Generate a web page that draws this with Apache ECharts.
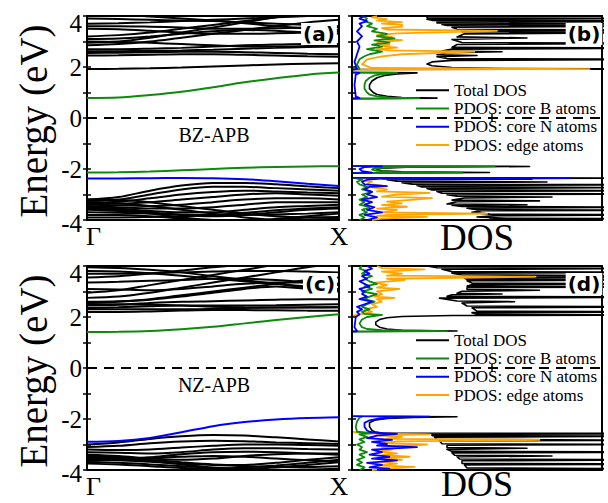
<!DOCTYPE html>
<html><head><meta charset="utf-8">
<script src="https://cdn.jsdelivr.net/npm/echarts@6/dist/echarts.min.js"></script>
<style>html,body{margin:0;padding:0;background:#fff}#c{width:608px;height:503px}</style>
</head><body><div id="c"></div>
<script>
// ---------- tick labels / categories ----------
const kPoints = [0, 0.125, 0.25, 0.375, 0.5, 0.625, 0.75, 0.875, 1];
const kTickLabels = { 0: 'Γ', 1: 'X' };
const energyTicks = [-4, -2, 0, 2, 4];
const energyTickLabels = ['-4', '-2', '0', '2', '4'];
const legendNames = ['Total DOS', 'PDOS: core B atoms', 'PDOS: core N atoms', 'PDOS: edge atoms'];
const panelLabels = ['(a)', '(b)', '(c)', '(d)'];
const structureLabels = ['BZ-APB', 'NZ-APB'];
const axisTitles = ['Energy (eV)', 'DOS'];
const fermiLevel = 0;
const dosMax = 100;
const dosTickStep = 56;

// ---------- panel (a): BZ-APB bands ----------
const bandsA_black = [
  [1.92, 1.93, 1.95, 1.98, 2.02, 2.06, 2.1, 2.13, 2.15],
  [2.45, 2.46, 2.48, 2.5, 2.5, 2.48, 2.45, 2.42, 2.4],
  [2.55, 2.56, 2.58, 2.6, 2.6, 2.58, 2.55, 2.52, 2.5],
  [2.62, 2.62, 2.63, 2.65, 2.68, 2.72, 2.75, 2.78, 2.8],
  [2.7, 2.7, 2.72, 2.75, 2.8, 2.85, 2.88, 2.9, 2.9],
  [2.85, 2.9, 3.0, 3.15, 3.3, 3.45, 3.6, 3.75, 3.85],
  [2.95, 3.0, 3.15, 3.35, 3.55, 3.75, 3.95, 4.1, 4.2],
  [3.1, 3.12, 3.2, 3.3, 3.4, 3.45, 3.42, 3.35, 3.3],
  [3.2, 3.25, 3.35, 3.5, 3.65, 3.8, 3.95, 4.1, 4.2],
  [3.5, 3.48, 3.42, 3.35, 3.3, 3.3, 3.32, 3.35, 3.38],
  [3.6, 3.6, 3.58, 3.55, 3.5, 3.5, 3.52, 3.55, 3.55],
  [3.7, 3.72, 3.75, 3.8, 3.85, 3.9, 3.95, 4.0, 4.05],
  [3.9, 3.88, 3.85, 3.82, 3.8, 3.75, 3.7, 3.65, 3.6],
  [4.1, 4.05, 3.98, 3.9, 3.82, 3.72, 3.6, 3.5, 3.45],
  [3.0, 2.98, 2.95, 2.9, 2.85, 2.8, 2.8, 2.82, 2.85],
  [-3.2, -3.1, -2.85, -2.65, -2.55, -2.55, -2.6, -2.68, -2.75],
  [-3.25, -3.2, -3.0, -2.8, -2.7, -2.7, -2.75, -2.8, -2.85],
  [-3.3, -3.28, -3.15, -3.0, -2.9, -2.85, -2.88, -2.92, -2.95],
  [-3.35, -3.35, -3.3, -3.2, -3.1, -3.0, -2.95, -3.0, -3.05],
  [-3.4, -3.42, -3.45, -3.4, -3.3, -3.2, -3.15, -3.15, -3.2],
  [-3.45, -3.5, -3.55, -3.55, -3.5, -3.4, -3.3, -3.3, -3.3],
  [-3.5, -3.55, -3.65, -3.7, -3.7, -3.6, -3.5, -3.45, -3.4],
  [-3.55, -3.6, -3.7, -3.8, -3.85, -3.8, -3.7, -3.6, -3.55],
  [-3.6, -3.65, -3.75, -3.9, -4.0, -4.05, -3.95, -3.85, -3.75],
  [-3.7, -3.72, -3.75, -3.78, -3.8, -3.8, -3.78, -3.75, -3.7],
  [-3.8, -3.8, -3.85, -3.95, -4.1, -4.1, -4.0, -3.9, -3.88],
  [-3.2, -3.22, -3.3, -3.45, -3.6, -3.75, -3.85, -3.9, -3.92],
  [-3.3, -3.35, -3.45, -3.6, -3.75, -3.9, -4.0, -4.05, -4.05],
  [-3.9, -3.9, -3.88, -3.85, -3.8, -3.72, -3.62, -3.55, -3.5]
];
const bandsA_green = [
  [0.78, 0.8, 0.9, 1.03, 1.21, 1.4, 1.56, 1.7, 1.78],
  [-2.14, -2.13, -2.1, -2.05, -2.0, -1.95, -1.92, -1.9, -1.89]
];
const bandsA_blue = [
  [-2.37, -2.37, -2.36, -2.35, -2.36, -2.4, -2.48, -2.58, -2.67]
];

// ---------- panel (c): NZ-APB bands ----------
const bandsC_black = [
  [2.2, 2.2, 2.22, 2.25, 2.27, 2.27, 2.26, 2.25, 2.25],
  [2.3, 2.3, 2.3, 2.3, 2.32, 2.35, 2.37, 2.38, 2.38],
  [2.35, 2.38, 2.42, 2.45, 2.45, 2.45, 2.46, 2.48, 2.5],
  [2.45, 2.48, 2.55, 2.6, 2.62, 2.65, 2.68, 2.7, 2.7],
  [2.55, 2.6, 2.7, 2.85, 3.0, 3.15, 3.3, 3.45, 3.55],
  [2.6, 2.62, 2.68, 2.8, 2.95, 3.1, 3.2, 3.1, 3.0],
  [2.75, 2.8, 2.95, 3.15, 3.35, 3.55, 3.75, 3.95, 4.1],
  [2.95, 3.05, 3.25, 3.45, 3.65, 3.85, 4.05, 4.2, 4.3],
  [3.1, 3.08, 3.05, 3.1, 3.2, 3.3, 3.35, 3.35, 3.3],
  [3.35, 3.38, 3.42, 3.45, 3.5, 3.5, 3.45, 3.35, 3.25],
  [3.55, 3.6, 3.7, 3.82, 3.95, 4.05, 4.1, 4.1, 4.1],
  [3.7, 3.7, 3.72, 3.75, 3.78, 3.8, 3.8, 3.78, 3.75],
  [3.8, 3.78, 3.72, 3.62, 3.5, 3.4, 3.3, 3.2, 3.1],
  [3.95, 3.92, 3.85, 3.75, 3.6, 3.45, 3.3, 3.15, 3.05],
  [2.5, 2.5, 2.48, 2.45, 2.4, 2.38, 2.37, 2.37, 2.38],
  [-3.0, -2.92, -2.78, -2.68, -2.63, -2.65, -2.72, -2.8, -2.88],
  [-3.1, -3.05, -2.95, -2.88, -2.85, -2.87, -2.92, -2.95, -2.98],
  [-3.2, -3.22, -3.2, -3.12, -3.05, -3.0, -3.0, -3.02, -3.05],
  [-3.3, -3.32, -3.35, -3.3, -3.2, -3.15, -3.15, -3.18, -3.2],
  [-3.4, -3.45, -3.55, -3.6, -3.55, -3.45, -3.38, -3.35, -3.35],
  [-3.45, -3.5, -3.6, -3.7, -3.78, -3.8, -3.72, -3.6, -3.5],
  [-3.5, -3.55, -3.65, -3.78, -3.9, -3.95, -3.9, -3.8, -3.7],
  [-3.55, -3.55, -3.52, -3.48, -3.45, -3.48, -3.55, -3.62, -3.68],
  [-3.6, -3.62, -3.68, -3.75, -3.8, -3.85, -3.88, -3.88, -3.85],
  [-3.7, -3.72, -3.78, -3.85, -3.92, -3.98, -4.0, -3.98, -3.95],
  [-3.65, -3.6, -3.5, -3.38, -3.3, -3.28, -3.3, -3.35, -3.4],
  [-3.75, -3.78, -3.85, -3.92, -3.95, -3.9, -3.82, -3.72, -3.6]
];
const bandsC_green = [
  [1.41, 1.42, 1.45, 1.52, 1.62, 1.75, 1.88, 2.0, 2.11]
];
const bandsC_blue = [
  [-2.89, -2.86, -2.74, -2.52, -2.28, -2.12, -2.02, -1.96, -1.93]
];

// ---------- panel (b): BZ-APB DOS, pairs [energy, dos] ----------
const dosB_total = [[-4.0,60],[-3.97,55],[-3.95,130],[-3.93,62],[-3.88,50],[-3.83,58],[-3.8,130],[-3.77,55],[-3.7,48],[-3.64,52],[-3.62,130],[-3.6,50],[-3.54,46],[-3.5,125],[-3.47,44],[-3.42,40],[-3.4,70],[-3.37,38],[-3.28,42],[-3.25,75],[-3.22,40],[-3.14,45],[-3.1,80],[-3.07,42],[-3.01,38],[-2.98,130],[-2.95,36],[-2.88,34],[-2.85,130],[-2.82,32],[-2.76,30],[-2.73,120],[-2.7,28],[-2.65,26],[-2.62,130],[-2.6,24],[-2.54,20],[-2.51,78],[-2.48,18],[-2.42,14],[-2.4,72],[-2.38,12],[-2.36,130],[-2.34,0],
  [-2.16,0],[-2.14,55],[-2.11,20],[-2.07,12],[-2.02,10],[-1.97,12],[-1.93,22],[-1.9,71],[-1.88,0],
  [0.76,0],[0.78,34],[0.8,20],[0.85,14],[0.92,10],[1.0,8.5],[1.15,7],[1.3,7],[1.45,8],[1.58,10],[1.67,13],[1.73,18],[1.77,26],[1.79,0],
  [1.9,0],[1.92,130],[1.94,60],[1.98,40],[2.05,32],[2.12,30],[2.2,32],[2.26,40],[2.3,130],[2.33,38],[2.4,34],[2.45,50],[2.48,34],[2.56,38],[2.6,60],[2.63,36],[2.7,40],[2.74,130],[2.77,40],[2.88,42],[2.93,130],[2.96,44],[3.08,40],[3.14,70],[3.18,42],[3.3,45],[3.35,130],[3.38,44],[3.42,60],[3.45,130],[3.48,42],[3.56,40],[3.6,130],[3.63,38],[3.67,36],[3.7,130],[3.73,34],[3.77,34],[3.8,125],[3.83,32],[3.87,30],[3.9,130],[3.93,30],[4.0,30]];
const dosB_coreB = [[-4,3],[-3.9,5],[-3.8,3],[-3.7,6],[-3.6,4],[-3.5,7],[-3.4,3],[-3.3,5],[-3.2,3],[-3.1,6],[-3.0,4],[-2.9,8],[-2.8,4],[-2.7,6],[-2.6,3],[-2.5,2],[-2.42,4],[-2.37,2],[-2.34,0],
  [-2.16,0],[-2.14,44],[-2.11,16],[-2.07,10],[-2.02,8],[-1.97,9],[-1.93,17],[-1.9,57],[-1.88,0],
  [0.76,0],[0.78,27],[0.8,15],[0.85,10],[0.92,7],[1.0,6],[1.15,5],[1.3,5],[1.45,5.5],[1.58,7],[1.67,9],[1.73,13],[1.77,18],[1.79,0],
  [1.9,0],[1.93,3],[2.1,2],[2.3,3],[2.42,5],[2.5,7],[2.6,12],[2.7,6],[2.8,12],[2.88,8],[2.96,15],[3.04,9],[3.12,17],[3.2,10],[3.3,14],[3.4,8],[3.5,10],[3.6,6],[3.7,8],[3.8,5],[3.9,6],[4.0,4]];
const dosB_coreN = [[-4,6],[-3.9,10],[-3.8,5],[-3.7,12],[-3.6,6],[-3.5,9],[-3.4,5],[-3.3,8],[-3.2,4],[-3.1,10],[-3.0,6],[-2.9,8],[-2.8,5],[-2.7,7],[-2.67,14],[-2.6,5],[-2.5,4],[-2.42,6],[-2.38,12],[-2.36,87],[-2.34,0],
  [-2.16,0],[-2.14,8],[-2.08,4],[-2.0,3],[-1.93,5],[-1.9,12],[-1.88,0],
  [0.76,0],[0.78,3],[0.85,1.5],[1.3,1],[1.7,1.5],[1.77,3],[1.79,0],
  [1.9,0],[1.93,2],[2.2,1],[2.5,2],[2.8,3],[3.0,2],[3.2,4],[3.4,2],[3.6,4],[3.7,3],[3.8,6],[3.9,3],[4.0,5]];
const dosB_edge = [[-4.0,8],[-3.95,12],[-3.88,30],[-3.84,10],[-3.8,15],[-3.75,54],[-3.7,12],[-3.6,18],[-3.55,10],[-3.48,22],[-3.42,12],[-3.35,20],[-3.28,14],[-3.2,25],[-3.14,32],[-3.08,12],[-3.0,18],[-2.94,31],[-2.88,10],[-2.8,14],[-2.72,8],[-2.65,12],[-2.58,6],[-2.5,8],[-2.45,4],[-2.4,3],[-2.36,1],[-2.34,0],
  [1.9,0],[1.92,95],[1.96,8],[2.1,4],[2.3,6],[2.42,12],[2.5,20],[2.6,49],[2.65,15],[2.7,10],[2.76,18],[2.82,12],[2.88,15],[2.94,10],[3.0,14],[3.05,20],[3.1,12],[3.18,16],[3.25,10],[3.32,18],[3.42,58],[3.47,14],[3.52,12],[3.58,20],[3.65,20],[3.7,12],[3.76,20],[3.82,10],[3.88,14],[3.95,8],[4.0,10]];

// ---------- panel (d): NZ-APB DOS, pairs [energy, dos] ----------
const dosD_total = [[-4,50],[-3.97,48],[-3.95,130],[-3.92,46],[-3.8,45],[-3.77,130],[-3.74,44],[-3.64,44],[-3.6,130],[-3.57,43],[-3.48,42],[-3.45,80],[-3.42,41],[-3.33,40],[-3.3,130],[-3.27,40],[-3.19,38],[-3.15,70],[-3.12,38],[-3.03,38],[-3.0,130],[-2.97,36],[-2.86,35],[-2.83,130],[-2.8,34],[-2.71,33],[-2.68,130],[-2.65,32],[-2.61,32],[-2.57,130],[-2.55,12],
  [-2.5,9],[-2.45,8],[-2.3,7],[-2.15,7],[-2.05,9],[-1.98,14],[-1.94,25],[-1.91,42],[-1.89,0],
  [1.43,0],[1.45,42],[1.48,20],[1.53,14],[1.6,11],[1.7,9.5],[1.8,9.5],[1.9,11],[1.97,14],[2.02,20],[2.06,40],[2.08,130],[2.11,50],[2.17,48],[2.2,130],[2.23,50],[2.36,48],[2.4,130],[2.43,46],[2.55,44],[2.6,65],[2.63,42],[2.74,35],[2.78,130],[2.81,38],[2.87,40],[2.9,60],[2.93,42],[3.01,44],[3.05,75],[3.08,46],[3.15,46],[3.18,130],[3.21,46],[3.27,48],[3.3,130],[3.33,48],[3.42,46],[3.45,130],[3.48,46],[3.52,45],[3.55,130],[3.58,74],[3.6,78],[3.62,130],[3.65,44],[3.72,40],[3.75,130],[3.78,40],[3.87,36],[3.9,130],[3.93,34],[4.0,30]];
const dosD_coreB = [[-4,3],[-3.9,5],[-3.8,2],[-3.7,4],[-3.6,2],[-3.5,5],[-3.4,3],[-3.3,6],[-3.2,3],[-3.1,4],[-3.0,2],[-2.9,5],[-2.8,3],[-2.7,6],[-2.6,3],[-2.55,8],[-2.5,2],[-2.3,1.5],[-2.1,2],[-1.95,3],[-1.91,4],[-1.89,0],
  [1.43,0],[1.45,38],[1.48,12],[1.53,6],[1.6,4],[1.75,3],[1.9,4],[2.0,6],[2.08,12],[2.12,5],[2.2,4],[2.3,7],[2.4,4],[2.5,6],[2.6,9],[2.7,5],[2.8,7],[2.9,10],[3.0,4],[3.1,8],[3.2,5],[3.3,10],[3.4,7],[3.5,5],[3.6,8],[3.7,4],[3.8,6],[3.9,3],[4.0,4]];
const dosD_coreN = [[-4,10],[-3.95,15],[-3.9,7],[-3.8,12],[-3.72,6],[-3.62,18],[-3.55,8],[-3.48,15],[-3.4,7],[-3.3,12],[-3.2,8],[-3.1,26],[-3.04,10],[-2.98,14],[-2.9,8],[-2.82,16],[-2.75,6],[-2.65,10],[-2.58,18],[-2.54,9],
  [-2.5,7],[-2.45,6],[-2.3,5],[-2.15,5],[-2.05,7],[-1.98,11],[-1.94,18],[-1.91,31],[-1.89,0],
  [1.43,0],[1.45,2],[1.6,1],[2.0,1.5],[2.1,3],[2.2,2],[2.3,4],[2.4,2],[2.5,5],[2.6,8],[2.7,3],[2.8,6],[2.9,4],[3.0,5],[3.1,3],[3.2,7],[3.3,5],[3.4,3],[3.5,6],[3.6,4],[3.7,7],[3.8,5],[3.9,8],[4.0,6]];
const dosD_edge = [[-4,8],[-3.95,14],[-3.88,25],[-3.82,10],[-3.75,18],[-3.68,12],[-3.6,20],[-3.55,10],[-3.48,23],[-3.42,12],[-3.35,18],[-3.28,10],[-3.2,16],[-3.12,12],[-3.05,20],[-3.0,30],[-2.95,12],[-2.88,18],[-2.82,75],[-2.78,14],[-2.7,20],[-2.64,10],[-2.6,31],[-2.56,5],[-2.52,1],[-2.48,0],
  [2.05,0],[2.1,3],[2.2,8],[2.3,5],[2.4,10],[2.5,8],[2.6,12],[2.7,10],[2.75,17],[2.8,9],[2.9,12],[3.0,10],[3.1,19],[3.15,10],[3.25,14],[3.35,9],[3.45,21],[3.5,14],[3.58,73],[3.62,14],[3.7,20],[3.78,12],[3.87,29],[3.92,12],[4.0,10]];

// ---------- styling ----------
const colBlack = '#000000', colGreen = '#0b8a0b', colBlue = '#0000ff', colOrange = '#ffa500';
const serif = 'Liberation Serif';
const chart = echarts.init(document.getElementById('c'), null, { renderer: 'svg', width: 608, height: 503 });

const gridBoxes = [
  { left: 87, top: 16, width: 252, height: 204 },
  { left: 352, top: 16, width: 250, height: 204 },
  { left: 87, top: 266, width: 252, height: 204 },
  { left: 352, top: 266, width: 250, height: 204 }
];
const grid = gridBoxes.map(g => Object.assign({ show: true, borderColor: '#000', borderWidth: 2, backgroundColor: 'transparent' }, g));

const labelRich = {
  top: { fontFamily: serif, fontSize: 25, color: '#000', padding: [14, 0, 0, 0] },
  bot: { fontFamily: serif, fontSize: 25, color: '#000', padding: [6, 0, 0, 0] },
  gam: { fontFamily: serif, fontSize: 26, color: '#000', padding: [0, 0, 0, 13] }
};
function energyLabel(v) {
  const j = energyTicks.indexOf(v);
  if (j < 0) return '';
  if (j === energyTicks.length - 1) return '{top|' + energyTickLabels[j] + '}';
  if (j === 0) return '{bot|' + energyTickLabels[j] + '}';
  return energyTickLabels[j];
}
function kLabel(v) {
  const s = kTickLabels[v] || '';
  return v === 0 ? '{gam|' + s + '}' : s;
}

const tickStyle = { show: true, inside: true, length: 4, lineStyle: { color: '#000', width: 1.5 } };
const xAxis = [], yAxis = [];
gridBoxes.forEach((g, i) => {
  const isBand = i % 2 === 0;
  if (isBand) {
    xAxis.push({ gridIndex: i, type: 'value', min: 0, max: 1, interval: 1, axisLine: { show: false }, axisTick: { show: false }, splitLine: { show: false },
      axisLabel: { formatter: kLabel, rich: labelRich, fontFamily: serif, fontSize: 26, color: '#000', margin: 3, showMinLabel: true, showMaxLabel: true } });
    xAxis.push({ gridIndex: i, type: 'value', min: 0, max: 1, position: 'top', show: false });
  } else {
    const common = { gridIndex: i, type: 'value', min: 0, max: dosMax, interval: dosTickStep, axisLine: { show: false }, axisLabel: { show: false }, splitLine: { show: false }, axisTick: tickStyle };
    xAxis.push(Object.assign({ position: 'bottom' }, common));
    xAxis.push(Object.assign({ position: 'top' }, common));
  }
  yAxis.push({ gridIndex: i, type: 'value', min: -4, max: 4, interval: 1, position: 'left', z: 10, splitLine: { show: false },
    axisLine: { show: !isBand, lineStyle: { color: '#000', width: 2 } }, axisTick: tickStyle,
    axisLabel: isBand ? { formatter: energyLabel, rich: labelRich, fontFamily: serif, fontSize: 25, color: '#000', margin: 5, showMinLabel: true, showMaxLabel: true } : { show: false } });
  yAxis.push({ gridIndex: i, type: 'value', min: -4, max: 4, interval: 1, position: 'right', splitLine: { show: false },
    axisLine: { show: false }, axisTick: tickStyle, axisLabel: { show: false } });
});

const fermiMark = { silent: true, symbol: ['none', 'none'], label: { show: false }, animation: false,
  lineStyle: { type: [10, 7], color: '#000', width: 2 }, data: [{ yAxis: fermiLevel }] };

const series = [];
function addBands(bands, color, gi, z, withFermi) {
  bands.forEach((b, n) => {
    series.push({ type: 'line', xAxisIndex: gi * 2, yAxisIndex: gi * 2, data: kPoints.map((k, j) => [k, b[j]]),
      smooth: 0.3, symbol: 'none', silent: true, z: z, lineStyle: { color: color, width: 2 }, itemStyle: { color: color },
      markLine: (withFermi && n === 0) ? fermiMark : undefined });
  });
}
function addDos(name, pairs, color, gi, z, withFermi, width) {
  series.push({ type: 'line', name: name, xAxisIndex: gi * 2, yAxisIndex: gi * 2, data: pairs.map(p => [p[1], p[0]]),
    symbol: 'none', silent: true, z: z, lineStyle: { color: color, width: width, join: 'round' }, itemStyle: { color: color },
    markLine: withFermi ? fermiMark : undefined });
}
addBands(bandsA_black, colBlack, 0, 2, true);
addBands(bandsA_green, colGreen, 0, 3, false);
addBands(bandsA_blue, colBlue, 0, 3, false);
addBands(bandsC_black, colBlack, 2, 2, true);
addBands(bandsC_green, colGreen, 2, 3, false);
addBands(bandsC_blue, colBlue, 2, 3, false);

addDos(legendNames[0], dosB_total, colBlack, 1, 2, true, 1.6);
addDos(legendNames[3], dosB_edge, colOrange, 1, 3, false, 1.8);
addDos(legendNames[1], dosB_coreB, colGreen, 1, 4, false, 1.8);
addDos(legendNames[2], dosB_coreN, colBlue, 1, 5, false, 1.8);
addDos(legendNames[0], dosD_total, colBlack, 3, 2, true, 1.6);
addDos(legendNames[3], dosD_edge, colOrange, 3, 3, false, 1.8);
addDos(legendNames[1], dosD_coreB, colGreen, 3, 4, false, 1.8);
addDos(legendNames[2], dosD_coreN, colBlue, 3, 5, false, 1.8);

const legendCommon = { orient: 'vertical', left: 416, icon: 'rect', itemWidth: 33, itemHeight: 2, itemGap: 0, padding: 0,
  selectedMode: false, data: legendNames,
  textStyle: { fontFamily: serif, fontSize: 17, color: '#000', lineHeight: 18.3 } };
const legend = [Object.assign({ top: 81 }, legendCommon), Object.assign({ top: 331 }, legendCommon)];

const txt = (x, y, text, font, extra, styleExtra) => Object.assign({ type: 'text', x: x, y: y, silent: true, z: 100,
  style: Object.assign({ text: text, font: font, fill: '#000', align: 'center', verticalAlign: 'middle' }, styleExtra || {}) }, extra || {});
const boxStyle = { backgroundColor: '#fff', padding: [1, 2, 1, 2] };
const graphic = [
  txt(319, 34, panelLabels[0], 'bold 20px "DejaVu Sans"', null, boxStyle),
  txt(584, 34, panelLabels[1], 'bold 20px "DejaVu Sans"', null, boxStyle),
  txt(320, 284, panelLabels[2], 'bold 20px "DejaVu Sans"', null, boxStyle),
  txt(584, 284, panelLabels[3], 'bold 20px "DejaVu Sans"', null, boxStyle),
  txt(214, 135, structureLabels[0], '20px "Liberation Serif"'),
  txt(214, 385, structureLabels[1], '20px "Liberation Serif"'),
  txt(33, 121, axisTitles[0], '39px "Liberation Serif"', { rotation: Math.PI / 2 }),
  txt(33, 371, axisTitles[0], '39px "Liberation Serif"', { rotation: Math.PI / 2 }),
  txt(477, 237, axisTitles[1], '37px "Liberation Serif"'),
  txt(477, 484, axisTitles[1], '36px "Liberation Serif"')
];

chart.setOption({ animation: false, backgroundColor: '#fff', grid, xAxis, yAxis, series, legend, graphic });
</script></body></html>
